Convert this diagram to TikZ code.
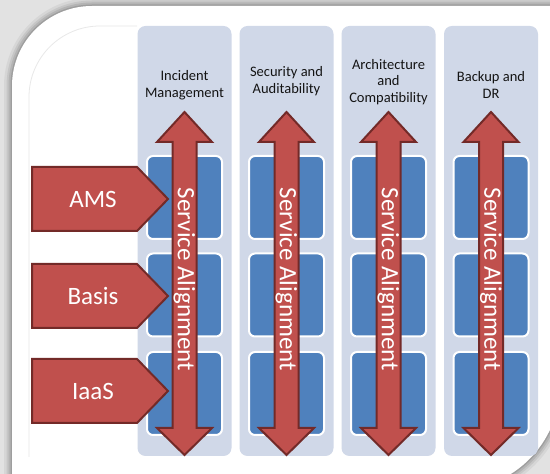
\documentclass[tikz,border=0pt]{standalone}
\usepackage{fontspec}
\setmainfont{Carlito}
\definecolor{colbg}{HTML}{D0D8E8}
\definecolor{boxblue}{HTML}{4F81BD}
\definecolor{arrred}{HTML}{C0504D}
\definecolor{arrline}{HTML}{732A28}
\definecolor{outerbg}{HTML}{E2E2E2}
\def\cardpath{(12,-11) -- (12,388) arc[start angle=180,end angle=90,radius=80] -- (560,468) -- (560,89) arc[start angle=0,end angle=-90,radius=105] -- cycle}
\begin{document}
\begin{tikzpicture}[x=1pt,y=1pt,
  col/.style={fill=colbg, rounded corners=8pt, minimum width=94pt, minimum height=430pt, inner sep=0pt},
  blk/.style={fill=boxblue, draw=white, line width=2pt, rounded corners=6pt, minimum width=75pt, minimum height=83pt, inner sep=0pt},
  ttl/.style={align=center, font=\fontsize{14.5}{16.5}\selectfont, text=black!92, inner sep=0pt},
  sa/.style={rotate=-90, text=white, font=\fontsize{25}{30}\selectfont, inner sep=0pt},
  arr/.style={fill=arrred, draw=arrline, line width=2pt, line join=miter},
  lbl/.style={text=white, font=\fontsize{25}{30}\selectfont, inner sep=0pt}]
\useasboundingbox (0,0) rectangle (550,474);
\clip (0,0) rectangle (550,474);
\fill[outerbg] (0,0) rectangle (550,474);
% soft shadow around the card
\foreach \w/\o in {16/0.05,11/0.07,7/0.09,3/0.12}
  \draw[black, opacity=\o, line width=\w pt] \cardpath;
\fill[white] \cardpath;
% faint inner line
\draw[black!9, line width=0.8pt] (29,17) -- (29,377) arc[start angle=180,end angle=90,radius=71] -- (137,448);
% columns
\foreach \i/\cx in {1/184.5,2/286.5,3/388.5,4/491}{
  \node[col] (col\i) at (\cx,233) {};
  \node[blk] (b\i a) at (\cx,276.5) {};
  \node[blk] (b\i b) at (\cx,179) {};
  \node[blk] (b\i c) at (\cx,80.5) {};
  \coordinate (up\i) at (\cx,362);
  \coordinate (dn\i) at (\cx,19);
  \draw[arr] (up\i) -- (\cx+27.5,332) -- (\cx+12,332) -- (\cx+12,46) -- (\cx+27.5,46)
     -- (dn\i) -- (\cx-27.5,46) -- (\cx-12,46) -- (\cx-12,332) -- (\cx-27.5,332) -- cycle;
  \node[sa] (sa\i) at (\cx,194.5) {Service Alignment};
}
% titles
\node[ttl] (t1) at (184.5,389) {Incident\\Management};
\node[ttl] (t2) at (286.5,393) {Security and\\Auditability};
\node[ttl] (t3) at (388.5,392) {Architecture\\and\\Compatibility};
\node[ttl] (t4) at (491,389) {Backup and\\DR};
% left chevrons
\foreach \n/\yc/\txt in {ams/275/AMS, basis/178/Basis, iaas/83/IaaS}{
  \coordinate (tip\n) at (168,\yc);
  \draw[arr] (32,\yc+32) -- (137,\yc+32) -- (tip\n) -- (137,\yc-32) -- (32,\yc-32) -- cycle;
  \node[lbl] (l\n) at (93,\yc) {\txt};
}
\end{tikzpicture}
\end{document}
